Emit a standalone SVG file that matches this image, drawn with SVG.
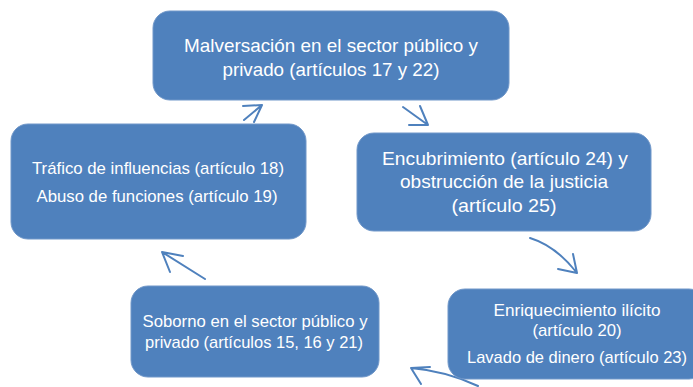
<svg xmlns="http://www.w3.org/2000/svg" width="693" height="387" viewBox="0 0 693 387">
<style>
.box{fill:#4F81BD;stroke:#7097C9;stroke-width:1}
.t{fill:#FFFFFF;font-family:"Liberation Sans",Arial,sans-serif;text-anchor:middle}
.a{fill:none;stroke:#4F81BD;stroke-width:2;stroke-linecap:round;stroke-linejoin:round}
</style>
<rect width="693" height="387" fill="#FFFFFF"/>
<g id="connectors">
<path class="a" d="M244,120 L262,105 M243,106 L262,105 L254,122"/>
<path class="a" d="M403,107 L428,125 M420,106 L428,125 L409,125"/>
<path class="a" d="M530,238 Q556,246 577,273 M573,254 L577,273 L558,269"/>
<path class="a" d="M478,386 Q446,371 411,368 M430,367 L411,368 L421,384"/>
<path class="a" d="M205,279 L162,252 M183,256 L162,252 L170,272"/>
</g>
<g id="node-malversacion">
<rect class="box" x="153" y="11" width="356" height="89" rx="17"/>
<text class="t" font-size="19" x="331" y="52" textLength="294" lengthAdjust="spacingAndGlyphs">Malversación en el sector público y</text>
<text class="t" font-size="19" x="331" y="76" textLength="217" lengthAdjust="spacingAndGlyphs">privado (artículos 17 y 22)</text>
</g>
<g id="node-trafico">
<rect class="box" x="11" y="124" width="295" height="115" rx="17"/>
<text class="t" font-size="17" x="158" y="174" textLength="252" lengthAdjust="spacingAndGlyphs">Tráfico de influencias (artículo 18)</text>
<text class="t" font-size="17" x="157" y="202" textLength="241" lengthAdjust="spacingAndGlyphs">Abuso de funciones (artículo 19)</text>
</g>
<g id="node-encubrimiento">
<rect class="box" x="357" y="133" width="294" height="98" rx="17"/>
<text class="t" font-size="19" x="505" y="165" textLength="246" lengthAdjust="spacingAndGlyphs">Encubrimiento (artículo 24) y</text>
<text class="t" font-size="19" x="504" y="188" textLength="208" lengthAdjust="spacingAndGlyphs">obstrucción de la justicia</text>
<text class="t" font-size="19" x="504" y="212" textLength="105" lengthAdjust="spacingAndGlyphs">(artículo 25)</text>
</g>
<g id="node-soborno">
<rect class="box" x="131" y="286" width="248" height="91" rx="17"/>
<text class="t" font-size="17" x="255" y="327" textLength="225" lengthAdjust="spacingAndGlyphs">Soborno en el sector público y</text>
<text class="t" font-size="17" x="254" y="348" textLength="218" lengthAdjust="spacingAndGlyphs">privado (artículos 15, 16 y 21)</text>
</g>
<g id="node-enriquecimiento">
<rect class="box" x="448" y="289" width="258" height="90" rx="17"/>
<text class="t" font-size="17" x="577" y="316" textLength="167" lengthAdjust="spacingAndGlyphs">Enriquecimiento ilícito</text>
<text class="t" font-size="17" x="577" y="336" textLength="89" lengthAdjust="spacingAndGlyphs">(artículo 20)</text>
<text class="t" font-size="17" x="577" y="363" textLength="220" lengthAdjust="spacingAndGlyphs">Lavado de dinero (artículo 23)</text>
</g>
</svg>
